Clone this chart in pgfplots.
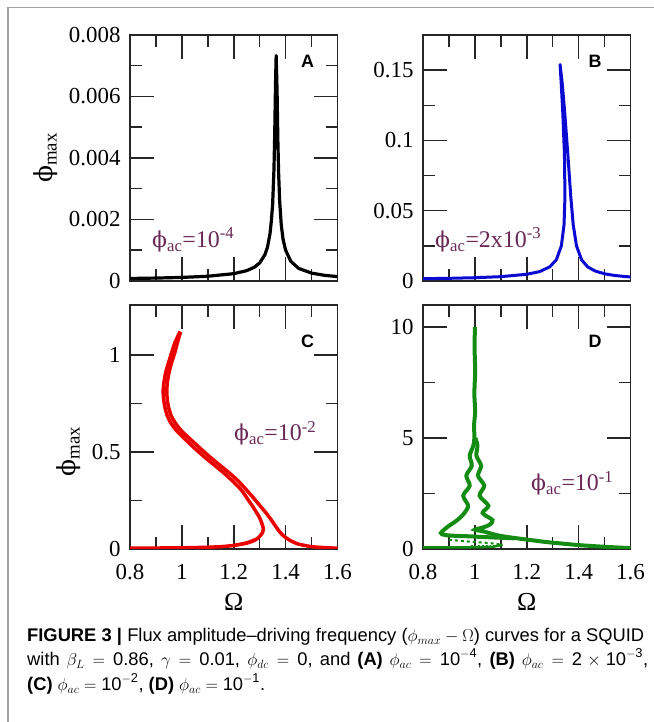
\documentclass[border=0pt]{standalone}
\usepackage{amsmath}
\usepackage{fontspec}
\setmainfont{Liberation Serif}
\newfontfamily\capfont{Liberation Sans}
\newfontfamily\phifont{DejaVu Serif}
\usepackage{pgfplots}
\pgfplotsset{compat=1.18}

\definecolor{annot}{RGB}{105,40,85}
\definecolor{cblue}{RGB}{10,10,210}
\definecolor{cred}{RGB}{235,0,0}
\definecolor{cgreen}{RGB}{20,140,20}
\definecolor{framegray}{RGB}{160,160,160}

\newcommand{\phis}[1]{{\phifont\fontsize{#1}{#1}\selectfont ϕ}}
\newcommand{\n}[1]{\text{#1}}

\pgfplotsset{
  panel/.style={
    scale only axis, width=207.5bp,
    xmin=0.8, xmax=1.6,
    xtick={0.8,1,1.2,1.4,1.6},
    minor x tick num=1, minor y tick num=1,
    tick align=inside,
    major tick length=24bp, minor tick length=12bp,
    tick style={line width=1.5bp, black!85},
    axis line style={line width=1.8bp, black!85},
    tick label style={font=\fontsize{23}{26}\selectfont},
    /pgf/number format/assume math mode=true,
    scaled ticks=false,
    yticklabel shift=6bp, xticklabel shift=12bp,
    ylabel style={font=\fontsize{27}{30}\selectfont},
    xlabel style={font=\fontsize{26}{30}\selectfont},
    xlabel shift=6bp, ylabel shift=4bp,
  },
  top/.style={xticklabels={}},
  bot/.style={xticklabels={0.8,1,1.2,1.4,1.6}, xlabel={Ω}},
}

\begin{document}
\begin{tikzpicture}[x=1bp,y=1bp]
\path[use as bounding box] (0,0) rectangle (654,722);
\draw[framegray, line width=1.5bp] (8,0) -- (8,714.5) -- (654,714.5);

% (A)
\begin{axis}[panel, top, at={(130bp,441bp)}, anchor=south west, height=246bp,
  ymin=0, ymax=0.008, ytick={0,0.002,0.004,0.006,0.008},
  yticklabels={0,0.002,0.004,0.006,0.008},
  ylabel={\phis{25}\textsubscript{max}}]
\addplot[black, line width=3.2bp, line join=round] coordinates {
 (0.80,0.000082) (0.90,0.000095) (1.00,0.000116) (1.10,0.000154) (1.20,0.000238)
 (1.25,0.000336) (1.28,0.000451) (1.30,0.000588) (1.32,0.00085) (1.33,0.0011)
 (1.34,0.00155) (1.345,0.00196) (1.35,0.00251) (1.355,0.00363) (1.358,0.0048)
 (1.361,0.0064) (1.3635,0.00733) (1.367,0.00617) (1.370,0.00459) (1.373,0.0035)
 (1.377,0.00259) (1.383,0.00184) (1.39,0.00136) (1.40,0.001) (1.42,0.00064)
 (1.45,0.00041) (1.50,0.000256) (1.55,0.000184) (1.60,0.000143)
};
\end{axis}

% (B)
\begin{axis}[panel, top, at={(423bp,441bp)}, anchor=south west, height=246bp,
  ymin=0, ymax=0.175, ytick={0,0.05,0.1,0.15},
  yticklabels={0,0.05,0.1,0.15}]
\addplot[cblue, line width=3bp, line join=round] coordinates {
 (0.80,0.00164) (0.90,0.0019) (1.00,0.00233) (1.10,0.00308) (1.20,0.00476)
 (1.25,0.0067) (1.288,0.010) (1.3138,0.015) (1.3334,0.025) (1.3437,0.040)
 (1.3473,0.060) (1.3453,0.090) (1.3388,0.120) (1.333,0.140) (1.3285,0.154)
 (1.337,0.140) (1.3463,0.120) (1.3584,0.090) (1.3697,0.060) (1.3791,0.040)
 (1.3918,0.025) (1.4114,0.015) (1.4351,0.010) (1.4647,0.007) (1.5032,0.005)
 (1.5361,0.004) (1.5764,0.0032) (1.60,0.00286)
};
\end{axis}

% (C)
\begin{axis}[panel, bot, at={(130bp,173bp)}, anchor=south west, height=244.3bp,
  ymin=0, ymax=1.26, ytick={0,0.5,1}, yticklabels={0,0.5,1},
  ylabel={\phis{25}\textsubscript{max}}, ylabel style={at={(ticklabel cs:0.4)}}]
\addplot[cred, line width=3.5bp, smooth, tension=0.4] coordinates {
 (0.80,0.004) (0.90,0.005) (1.00,0.006) (1.10,0.009) (1.15,0.012) (1.20,0.018)
 (1.25,0.030) (1.282,0.046) (1.30,0.065) (1.311,0.085) (1.314,0.105) (1.309,0.13)
 (1.298,0.165) (1.28,0.205) (1.255,0.255) (1.228,0.306) (1.196,0.35) (1.162,0.392)
 (1.123,0.435) (1.085,0.477) (1.045,0.525) (1.008,0.572) (0.98,0.61) (0.958,0.649)
 (0.943,0.69) (0.934,0.735) (0.929,0.78) (0.928,0.821) (0.931,0.86) (0.937,0.907)
 (0.946,0.95) (0.96,1.01) (0.972,1.06) (0.993,1.122)
};
\addplot[cred, line width=3.5bp, smooth, tension=0.4] coordinates {
 (0.995,1.12) (0.982,1.06) (0.972,1.01) (0.958,0.95) (0.95,0.907) (0.944,0.86)
 (0.942,0.821) (0.943,0.78) (0.948,0.735) (0.958,0.69) (0.975,0.649) (0.998,0.61)
 (1.028,0.572) (1.066,0.525) (1.106,0.477) (1.144,0.435) (1.183,0.392) (1.218,0.35)
 (1.248,0.306) (1.275,0.265) (1.30,0.225) (1.322,0.19) (1.342,0.155) (1.36,0.12)
 (1.376,0.09) (1.395,0.064) (1.42,0.042) (1.45,0.025) (1.50,0.012) (1.55,0.007)
 (1.60,0.004)
};
\addplot[cred, line width=2.5bp, smooth] coordinates {
 (1.15,0.010) (1.20,0.020) (1.25,0.034) (1.28,0.050)
};
\end{axis}

% (D)
\begin{axis}[panel, bot, at={(423bp,173bp)}, anchor=south west, height=244.3bp,
  ymin=0, ymax=11, ytick={0,5,10}, yticklabels={0,5,10}]
\addplot[cgreen, line width=2.5bp] coordinates {
 (0.80,0.07) (0.90,0.07) (1.00,0.08) (1.07,0.10) (1.107,0.19)
};
\addplot[cgreen, line width=2bp, dashed] coordinates {
 (0.90,0.42) (0.95,0.36) (1.00,0.31) (1.056,0.27) (1.107,0.19)
};
\addplot[cgreen, line width=1.8bp, dotted] coordinates {
 (0.984,0.16) (1.074,0.16)
};
\addplot[cgreen, line width=4bp, smooth, tension=0.5] coordinates {
 (1.000,10.0) (0.999,9.0) (1.001,8.0) (0.998,7.0) (1.001,6.2) (0.997,5.6)
 (0.998,5.0) (0.994,4.65) (0.980,4.2) (0.988,3.75) (0.967,3.3) (0.980,2.85)
 (0.955,2.4) (0.974,1.95) (0.958,1.6) (0.932,1.3) (0.895,1.0) (0.869,0.72)
 (0.885,0.63) (0.93,0.59) (0.98,0.57) (1.03,0.54) (1.09,0.51) (1.15,0.48)
};
\addplot[cgreen, line width=4bp, smooth, tension=0.5] coordinates {
 (1.002,5.0) (1.010,4.65) (1.006,4.2) (1.024,3.75) (1.012,3.3) (1.036,2.85)
 (1.018,2.4) (1.052,1.95) (1.030,1.62) (1.068,1.30) (1.055,1.08) (1.025,0.95)
 (1.00,0.87) (1.03,0.80) (1.06,0.70) (1.094,0.60) (1.15,0.50) (1.21,0.41)
 (1.27,0.32) (1.34,0.24) (1.40,0.175) (1.47,0.12) (1.53,0.08) (1.60,0.04)
};
\end{axis}

% panel letters
\begin{scope}[every node/.style={font=\capfont\bfseries\fontsize{18}{20}\selectfont, inner sep=0}]
\node at (307.5,660.5) {A};
\node at (595,660.5) {B};
\node at (307.5,380.3) {C};
\node at (595,380.3) {D};
\end{scope}

% annotations
\begin{scope}[every node/.style={anchor=base west, inner sep=0, text=annot, font=\fontsize{24}{26}\selectfont}]
\node at (152,474) {\phis{22}\textsubscript{ac}=10\textsuperscript{-4}};
\node at (435,474) {\phis{22}\textsubscript{ac}=2x10\textsuperscript{-3}};
\node at (234,281) {\phis{22}\textsubscript{ac}=10\textsuperscript{-2}};
\node at (531,231) {\phis{22}\textsubscript{ac}=10\textsuperscript{-1}};
\end{scope}

% caption
\begin{scope}[every node/.style={anchor=base west, inner sep=0, font=\capfont\fontsize{18.4}{24}\selectfont}]
\node at (27,80.3) {\makebox[617bp][s]{\textbf{FIGURE 3 |} Flux amplitude–driving frequency ($\phi_{max}-\Omega$) curves for a SQUID}};
\node at (27,56) {\makebox[621bp][s]{with $\beta_L=\n{0.86}$, $\gamma=\n{0.01}$, $\phi_{dc}=\n{0}$, and \textbf{(A)} $\phi_{ac}=\n{10}^{-\n{4}}$, \textbf{(B)} $\phi_{ac}=\n{2}\times\n{10}^{-\n{3}}$,}};
\node at (27,31.5) {\makebox[238bp][s]{\textbf{(C)} $\phi_{ac}=\n{10}^{-\n{2}}$, \textbf{(D)} $\phi_{ac}=\n{10}^{-\n{1}}$.}};
\end{scope}
\end{tikzpicture}
\end{document}
